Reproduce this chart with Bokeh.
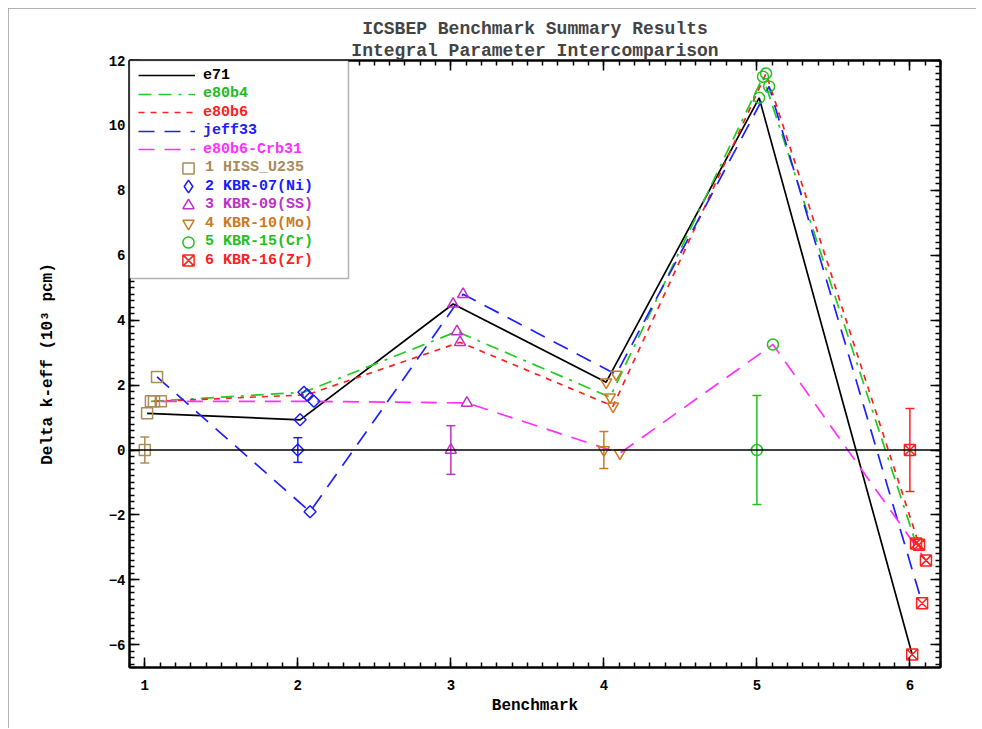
import math
from bokeh.plotting import figure
from bokeh.models import (Range1d, LinearAxis, SingleIntervalTicker, Span, Title,
                          Legend, LegendItem, BoxAnnotation, ColumnDataSource)
from bokeh.embed import file_html
from bokeh.resources import INLINE

# ---------------- data ----------------
benchmarks = [1, 2, 3, 4, 5, 6]
bench_names = ["1 HISS_U235", "2 KBR-07(Ni)", "3 KBR-09(SS)",
               "4 KBR-10(Mo)", "5 KBR-15(Cr)", "6 KBR-16(Zr)"]
bench_colors = ["#a88c5a", "#1a1aff", "#c030c8", "#cc7a22", "#22c022", "#ff2020"]
bench_markers = ["square", "square", "triangle", "inverted_triangle", "circle", "square_x"]
bench_legend_markers = ["square", "diamond", "triangle", "inverted_triangle", "circle", "square_x"]
bench_marker_angles = [0, 45, 0, 0, 0, 0]
bench_marker_sizes = [11, 8.5, 11, 11, 11, 11]

exp_value = [0.0, 0.0, 0.0, 0.0, 0.0, 0.0]
exp_unc = [0.40, 0.38, 0.75, 0.57, 1.68, 1.28]

libraries = ["e71", "e80b4", "e80b6", "jeff33", "e80b6-Crb31"]
lib_offsets = [0.015, 0.04, 0.06, 0.08, 0.105]
e71 = [1.13, 0.93, 4.50, 2.09, 10.85, -6.30]
e80b4 = [1.50, 1.78, 3.65, 1.63, 11.50, -2.88]
e80b6 = [1.50, 1.70, 3.32, 1.35, 11.60, -2.92]
jeff33 = [2.25, -1.90, 4.80, 2.33, 11.20, -4.72]
e80b6_crb31 = [1.50, 1.50, 1.45, -0.10, 3.25, -3.40]
lib_values = [e71, e80b4, e80b6, jeff33, e80b6_crb31]
lib_colors = ["black", "#22cc22", "#ff2020", "#2020ff", "#ff30ff"]
lib_dashes = ["solid", "13 7 13 7 3 7", "6 6", "16 10", "16 10"]

title1 = "ICSBEP Benchmark Summary Results"
title2 = "Integral Parameter Intercomparison"
x_label = "Benchmark"
y_label = "Delta k-eff (10\u00b3 pcm)"

FONT = "Liberation Mono"

# ---------------- figure ----------------
p = figure(width=968, height=720, x_range=Range1d(0.9, 6.2), y_range=Range1d(-6.7, 12.0),
           output_backend="svg", toolbar_location=None, title=None,
           min_border_left=121, min_border_right=36, min_border_top=52, min_border_bottom=61,
           background_fill_color="white", border_fill_color="white")
p.grid.visible = False
p.outline_line_color = "black"
p.outline_line_width = 2
p.styles = {"margin-left": "8px", "margin-top": "8px",
            "outline": "1px solid #999999", "outline-offset": "-1px"}

xt = SingleIntervalTicker(interval=1, num_minor_ticks=10)
yt = SingleIntervalTicker(interval=2, num_minor_ticks=10)


def style_axis(ax, labels=True):
    ax.major_tick_in = 10
    ax.major_tick_out = 0
    ax.minor_tick_in = 5
    ax.minor_tick_out = 0
    ax.axis_line_width = 2
    ax.major_tick_line_width = 1.5
    ax.minor_tick_line_width = 1.5
    ax.major_label_text_font = FONT
    ax.major_label_text_font_style = "bold"
    if labels:
        ax.major_label_text_font_size = "14px"
        ax.major_label_text_color = "black"
    else:
        ax.major_label_text_font_size = "1px"
        ax.major_label_text_color = None
        ax.major_label_standoff = 0
    ax.axis_label_text_font = FONT
    ax.axis_label_text_font_style = "bold"
    ax.axis_label_text_font_size = "16px"
    ax.axis_label_text_color = "black"


xax = p.xaxis[0]
xax.ticker = xt
xax.axis_label = x_label
xax.major_label_standoff = 12
xax.axis_label_standoff = 4
style_axis(xax)

yax = p.yaxis[0]
yax.ticker = yt
yax.axis_label = y_label
yax.major_label_standoff = 4
yax.axis_label_standoff = 49
style_axis(yax)

top_ax = LinearAxis(ticker=xt)
style_axis(top_ax, labels=False)
p.add_layout(top_ax, "above")
right_ax = LinearAxis(ticker=yt)
style_axis(right_ax, labels=False)
p.add_layout(right_ax, "right")

p.add_layout(Title(text=title2, align="center", text_font=FONT, text_font_style="bold",
                   text_font_size="18px", standoff=0), "above")
p.add_layout(Title(text=title1, align="center", text_font=FONT, text_font_style="bold",
                   text_font_size="18px", standoff=0), "above")

# zero reference line (experimental value)
p.add_layout(Span(location=exp_value[0], dimension="width", line_color="black", line_width=1.6))

# library lines
line_renderers = []
for name, vals, off, col, dash in zip(libraries, lib_values, lib_offsets, lib_colors, lib_dashes):
    xs = [b + off for b in benchmarks]
    r = p.line(xs, vals, line_color=col, line_dash=dash, line_width=1.7)
    line_renderers.append(r)

# experimental error bars
lo = [v - u for v, u in zip(exp_value, exp_unc)]
hi = [v + u for v, u in zip(exp_value, exp_unc)]
p.segment(x0=benchmarks, y0=lo, x1=benchmarks, y1=hi, line_color=bench_colors, line_width=1.5)
p.scatter(benchmarks, lo, marker="dash", size=9, line_color=bench_colors, line_width=1.5)
p.scatter(benchmarks, hi, marker="dash", size=9, line_color=bench_colors, line_width=1.5)

# benchmark markers
marker_renderers = []
for j, (b, col, mk) in enumerate(zip(benchmarks, bench_colors, bench_markers)):
    xs = [b + off for off in lib_offsets] + [b]
    ys = [vals[j] for vals in lib_values] + [exp_value[j]]
    src = ColumnDataSource(dict(x=xs, y=ys))
    r = p.scatter("x", "y", source=src, marker=mk, size=bench_marker_sizes[j],
                  angle=math.radians(bench_marker_angles[j]), fill_color=None,
                  line_color=col, line_width=1.5)
    if bench_legend_markers[j] != mk:
        # legend swatches are never rotated: use a (non-drawn) proxy with the diamond shape
        r = p.scatter(x=[float("nan")], y=[float("nan")], marker=bench_legend_markers[j],
                      size=12, fill_color=None, line_color=col, line_width=1.5)
    marker_renderers.append(r)

# legend frame
p.add_layout(BoxAnnotation(left=0.9, right=2.331, top=12.0, bottom=5.284,
                           fill_color="white", fill_alpha=1.0,
                           line_color="black", line_width=1.5, level="annotation"))

# legend rows (one legend per row so each label keeps its own colour)
row_labels = libraries + bench_names
row_colors = ["black", "#22bb22", "#ff2020", "#2020ff", "#ff30ff"] + bench_colors
row_renderers = line_renderers + marker_renderers
for i, (lab, col, rend) in enumerate(zip(row_labels, row_colors, row_renderers)):
    is_line = i < len(libraries)
    if is_line:
        gh, gw, vx, standoff = 18, 57, 9, 8
    elif bench_legend_markers[i - len(libraries)] == "diamond":
        gh, gw, vx, standoff = 32, 32, 43, 1
    else:
        gh, gw, vx, standoff = 28, 28, 45, 3
    vy = 592 - 18.5 * i - gh / 2
    leg = Legend(items=[LegendItem(label=lab, renderers=[rend], index=0)], location=(vx, vy),
                 padding=0, margin=0, spacing=0,
                 glyph_width=gw, glyph_height=gh, label_height=gh,
                 label_standoff=standoff, border_line_color=None,
                 background_fill_alpha=0,
                 label_text_font=FONT, label_text_font_style="bold",
                 label_text_font_size="15px", label_text_color=col)
    p.add_layout(leg)

open("out.html", "w").write(file_html(p, INLINE))
